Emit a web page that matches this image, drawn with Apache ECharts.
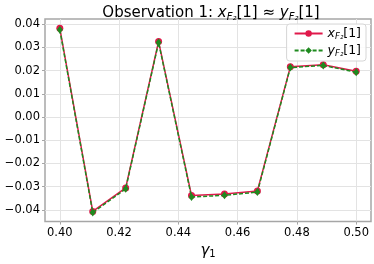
<!DOCTYPE html>
<html><head><meta charset="utf-8">
<script src="https://cdn.jsdelivr.net/npm/echarts@6/dist/echarts.min.js"></script>
<style>html,body{margin:0;padding:0;background:#fff}#c{width:374px;height:264px}</style>
</head><body><div id="c"></div>
<script>
var gammaValues = [0.4, 0.41111, 0.42222, 0.43333, 0.44444, 0.45556, 0.46667, 0.47778, 0.48889, 0.5];
var xF2Values = [0.0382, -0.0406, -0.0305, 0.0325, -0.0338, -0.0331, -0.0318, 0.0216, 0.0225, 0.0197];
var yF2Values = [0.0376, -0.0411, -0.0309, 0.0321, -0.0344, -0.0337, -0.0323, 0.0213, 0.0222, 0.0193];
var xTicks = [0.40, 0.42, 0.44, 0.46, 0.48, 0.50];
var yTicks = [-0.04, -0.03, -0.02, -0.01, 0.00, 0.01, 0.02, 0.03, 0.04];

var F = 'DejaVu Sans';
function fmt(v){ var s = Math.abs(v) < 1e-9 ? '0.00' : Math.abs(v).toFixed(2); return (v < -1e-9 ? '\u2212' : '') + s; }
var chart = echarts.init(document.getElementById('c'), null, {renderer:'canvas'});
var spine = '#a6a6a6';
chart.setOption({
  animation:false,
  title:{
    text:'{n|Observation 1: }{i|x}{s|F\u2082}{n|[1] \u2248 }{i|y}{s|F\u2082}{n|[1]}',
    left:206, textAlign:'center', top:0,
    textStyle:{ fontFamily:F, fontWeight:'normal', color:'#000', rich:{
      n:{fontFamily:F, fontSize:15, fontWeight:'normal', color:'#000'},
      i:{fontFamily:F, fontSize:15, fontWeight:'normal', fontStyle:'italic', color:'#000'},
      s:{fontFamily:F, fontSize:10, fontWeight:'normal', fontStyle:'italic', color:'#000', padding:[7,0,0,0]}
    }}
  },
  grid:{left:45, right:3, top:19, bottom:36, show:true, borderColor:spine, borderWidth:1.5},
  legend:{
    orient:'vertical', right:8, top:24, itemWidth:28, itemHeight:8, itemGap:3,
    backgroundColor:'rgba(255,255,255,0.85)', borderColor:'#d6d6d6', borderWidth:1, borderRadius:3,
    padding:[3,5,3,7],
    formatter:function(name){ return name==='x' ? '{i|x}{s|F\u2082}{n|[1]}' : '{i|y}{s|F\u2082}{n|[1]}'; },
    textStyle:{ fontFamily:F, rich:{
      n:{fontFamily:F, fontSize:12.5, color:'#000'},
      i:{fontFamily:F, fontSize:12.5, fontStyle:'italic', color:'#000'},
      s:{fontFamily:F, fontSize:8.5, fontStyle:'italic', color:'#000', padding:[6,0,0,0]}
    }},
    data:['x','y']
  },
  xAxis:{
    type:'value', min:0.395, max:0.505,
    name:'{g|\u03b3}{s|1}', nameLocation:'middle', nameGap:19,
    nameTextStyle:{rich:{
      g:{fontFamily:F, fontSize:15, fontStyle:'italic', color:'#000'},
      s:{fontFamily:F, fontSize:10, color:'#000', padding:[6,0,0,0]}
    }},
    axisLine:{show:false, onZero:false},
    axisTick:{show:true, length:3, customValues:xTicks, lineStyle:{color:spine}},
    axisLabel:{customValues:xTicks, formatter:function(v){return v.toFixed(2);}, fontFamily:F, fontSize:11.5, color:'#000', margin:5},
    splitLine:{show:true, lineStyle:{color:'#e3e3e3', width:1}}
  },
  yAxis:{
    type:'value', min:-0.045, max:0.0422,
    axisLine:{show:false, onZero:false},
    axisTick:{show:true, length:3, customValues:yTicks, lineStyle:{color:spine}},
    axisLabel:{customValues:yTicks, formatter:fmt, fontFamily:F, fontSize:11.5, color:'#000', margin:5},
    splitLine:{show:true, lineStyle:{color:'#e3e3e3', width:1}}
  },
  series:[
    {name:'x', type:'line', data:gammaValues.map(function(g,i){return [g, xF2Values[i]];}),
     symbol:'circle', symbolSize:7, itemStyle:{color:'#e0194b'}, lineStyle:{color:'#e0194b', width:1.5}, z:2},
    {name:'y', type:'line', data:gammaValues.map(function(g,i){return [g, yF2Values[i]];}),
     symbol:'diamond', symbolSize:[6,8], itemStyle:{color:'#1f8a1f'}, lineStyle:{color:'#1f8a1f', width:1.5, type:[4,2]}, z:3}
  ]
});
</script></body></html>
